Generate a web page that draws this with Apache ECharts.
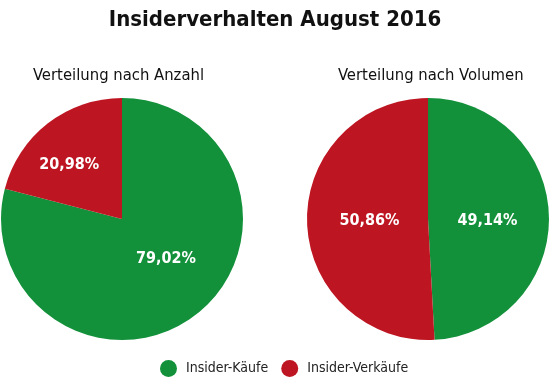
<!DOCTYPE html>
<html><head><meta charset="utf-8">
<script src="https://cdn.jsdelivr.net/npm/echarts@6/dist/echarts.min.js"></script>
<style>html,body{margin:0;padding:0;background:#fff}#c{width:550px;height:380px}</style>
</head><body><div id="c"></div>
<script>
var categories = ['Insider-Käufe', 'Insider-Verkäufe'];
var anzahlValues = [79.02, 20.98];
var volumenValues = [49.14, 50.86];
var chartTitle = 'Insiderverhalten August 2016';
var subTitles = ['Verteilung nach Anzahl', 'Verteilung nach Volumen'];

var FONT = '"DejaVu Sans Condensed", "Liberation Sans Narrow", sans-serif';
var colors = ['#12903a', '#bd1622'];
function fmt(p) { return p.value.toFixed(2).replace('.', ',') + '%'; }
function mk(vals, offsets) {
  return categories.map(function (c, i) {
    return { name: c, value: vals[i], label: { offset: offsets[i] } };
  });
}
var labelStyle = { position: 'inside', formatter: fmt, color: '#fff', fontFamily: FONT, fontSize: 16, fontWeight: 'bold' };
var chart = echarts.init(document.getElementById('c'), null, { renderer: 'canvas' });
chart.setOption({
  color: colors,
  animation: false,
  title: [
    { text: chartTitle, left: 'center', top: 4, textStyle: { fontFamily: FONT, fontSize: 22, fontWeight: 'bold', color: '#111' } },
    { text: subTitles[0], left: 28, top: 62, textStyle: { fontFamily: FONT, fontSize: 16.5, fontWeight: 'normal', color: '#111' } },
    { text: subTitles[1], left: 333, top: 62, textStyle: { fontFamily: FONT, fontSize: 16.5, fontWeight: 'normal', color: '#111' } }
  ],
  legend: {
    data: categories, top: 355, left: 155, icon: 'circle', itemWidth: 17, itemHeight: 17, itemGap: 13,
    textStyle: { fontFamily: FONT, fontSize: 14, color: '#222', padding: [0, 0, 0, 4] }
  },
  series: [
    {
      type: 'pie', center: [122, 219], radius: 121, startAngle: 90, clockwise: true,
      label: labelStyle, labelLine: { show: false },
      data: mk(anzahlValues, [[5, -10], [-14, -4]])
    },
    {
      type: 'pie', center: [428, 219], radius: 121, startAngle: 90, clockwise: true,
      label: labelStyle, labelLine: { show: false },
      data: mk(volumenValues, [[-4, 4], [5, 0]])
    }
  ]
});
</script></body></html>
